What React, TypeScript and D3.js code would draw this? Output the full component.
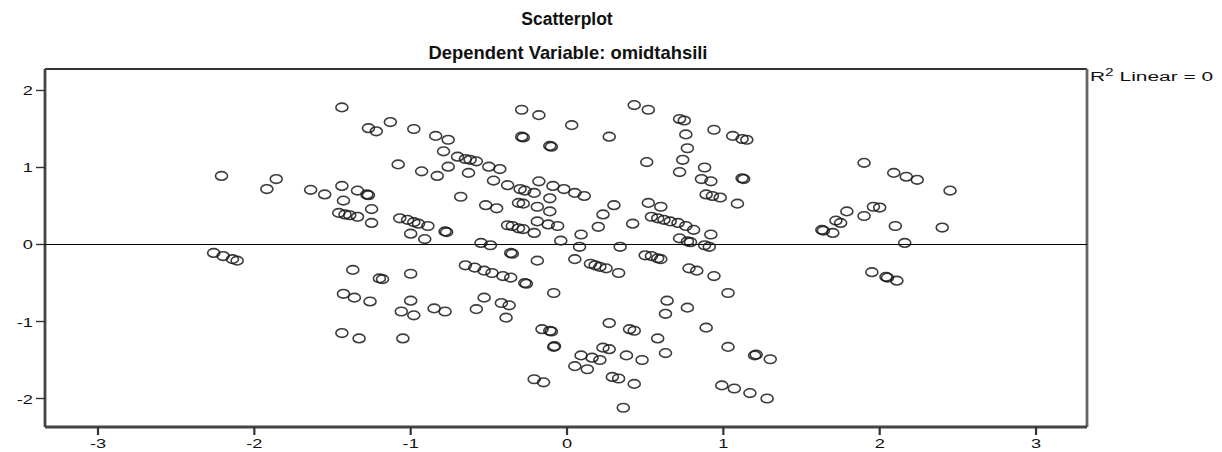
import React from 'react';
import * as d3 from 'd3';

const xVals = [
  -2.21, -1.86, -1.92, -1.64, -1.55, -1.44, -1.27, -1.22, -1.44, -1.34,
  -1.28, -1.27, -1.43, -1.25, -1.46, -1.42, -1.39, -1.34, -1.25, -2.26,
  -2.20, -2.14, -2.11, -1.37, -1.20, -1.18, -1.43, -1.36, -1.26, -1.44,
  -1.33, -0.29, -0.18, -1.13, -0.98, -0.84, -0.76, -0.29, -0.28, -0.11,
  -0.10, 0.03, -0.79, -0.70, -0.65, -0.62, -0.58, -0.50, -0.43, -1.08,
  -0.76, -0.93, -0.83, -0.63, -0.47, -0.38, -0.30, -0.27, -0.21, -0.18,
  -0.09, -0.02, -0.11, -0.68, -0.52, -0.45, -0.31, -0.28, -0.19, -0.11,
  -1.07, -1.02, -0.98, -0.95, -0.89, -1.00, -0.91, -0.78, -0.77, -0.38,
  -0.35, -0.31, -0.28, -0.21, -0.19, -0.12, -0.06, -0.55, -0.49, -0.04,
  -0.36, -0.35, -0.19, -1.00, -0.65, -0.59, -0.53, -0.48, -0.41, -0.36,
  -0.27, -0.26, -0.085, -1.00, -1.06, -0.98, -0.85, -0.78, -0.53, -0.58,
  -0.42, -0.37, -0.39, -1.05, -0.16, -0.11, -0.10, -0.085, -0.08, -0.21,
  -0.15, 0.43, 0.52, 0.72, 0.75, 0.27, 0.76, 0.94, 1.06, 1.12,
  1.15, 0.77, 0.51, 0.74, 0.72, 0.88, 0.86, 0.92, 1.12, 1.13,
  0.89, 0.93, 0.98, 1.09, 0.05, 0.11, 0.30, 0.23, 0.20, 0.09,
  0.42, 0.52, 0.60, 0.54, 0.58, 0.62, 0.66, 0.71, 0.76, 0.81,
  0.92, 0.72, 0.77, 0.79, 0.88, 0.91, 0.08, 0.34, 0.05, 0.15,
  0.18, 0.21, 0.25, 0.33, 0.50, 0.54, 0.58, 0.60, 0.78, 0.83,
  0.94, 1.03, 0.64, 0.77, 0.63, 0.27, 0.40, 0.43, 0.58, 0.89,
  1.03, 1.20, 1.21, 1.30, 0.23, 0.27, 0.09, 0.16, 0.21, 0.38,
  0.48, 0.63, 0.05, 0.13, 0.29, 0.33, 0.43, 0.36, 0.99, 1.07,
  1.17, 1.28, 1.90, 2.09, 2.17, 2.24, 2.45, 1.79, 1.96, 2.00,
  1.90, 1.72, 1.75, 1.63, 1.64, 1.70, 2.10, 2.40, 2.16, 1.95,
  2.04, 2.05, 2.11,
];

const yVals = [
  0.89, 0.85, 0.72, 0.71, 0.65, 1.78, 1.51, 1.47, 0.76, 0.70,
  0.65, 0.64, 0.57, 0.46, 0.41, 0.39, 0.38, 0.36, 0.28, -0.11,
  -0.15, -0.19, -0.21, -0.33, -0.44, -0.45, -0.64, -0.69, -0.74, -1.15,
  -1.22, 1.75, 1.68, 1.59, 1.50, 1.41, 1.36, 1.40, 1.39, 1.28,
  1.27, 1.55, 1.21, 1.14, 1.11, 1.10, 1.08, 1.01, 0.98, 1.04,
  1.01, 0.95, 0.89, 0.93, 0.83, 0.77, 0.72, 0.70, 0.67, 0.82,
  0.76, 0.72, 0.60, 0.62, 0.51, 0.47, 0.54, 0.53, 0.49, 0.43,
  0.34, 0.32, 0.29, 0.27, 0.24, 0.14, 0.07, 0.17, 0.16, 0.25,
  0.24, 0.21, 0.20, 0.15, 0.30, 0.26, 0.24, 0.02, -0.01, 0.05,
  -0.11, -0.12, -0.21, -0.38, -0.27, -0.30, -0.34, -0.37, -0.41, -0.43,
  -0.50, -0.51, -0.63, -0.73, -0.87, -0.92, -0.83, -0.87, -0.69, -0.84,
  -0.76, -0.79, -0.95, -1.22, -1.10, -1.12, -1.13, -1.33, -1.32, -1.75,
  -1.79, 1.81, 1.75, 1.63, 1.61, 1.40, 1.43, 1.49, 1.41, 1.37,
  1.36, 1.25, 1.07, 1.10, 0.94, 1.00, 0.85, 0.82, 0.86, 0.85,
  0.65, 0.63, 0.61, 0.53, 0.67, 0.63, 0.51, 0.39, 0.23, 0.13,
  0.27, 0.54, 0.49, 0.36, 0.34, 0.32, 0.30, 0.28, 0.24, 0.19,
  0.13, 0.08, 0.04, 0.03, -0.01, -0.03, -0.03, -0.03, -0.19, -0.25,
  -0.27, -0.29, -0.31, -0.37, -0.14, -0.15, -0.18, -0.19, -0.31, -0.34,
  -0.41, -0.63, -0.73, -0.82, -0.90, -1.02, -1.10, -1.12, -1.22, -1.08,
  -1.33, -1.44, -1.43, -1.49, -1.34, -1.36, -1.44, -1.47, -1.50, -1.44,
  -1.50, -1.41, -1.58, -1.62, -1.72, -1.74, -1.81, -2.12, -1.83, -1.87,
  -1.93, -2.00, 1.06, 0.93, 0.88, 0.84, 0.70, 0.43, 0.49, 0.48,
  0.37, 0.31, 0.28, 0.19, 0.18, 0.15, 0.24, 0.22, 0.02, -0.36,
  -0.42, -0.43, -0.47,
];

const xTicks = [-3, -2, -1, 0, 1, 2, 3];
const yTicks = [-2, -1, 0, 1, 2];

const titleText = 'Scatterplot';
const subtitleText = 'Dependent Variable: omidtahsili';

export default function App() {
  const W = 1222;
  const H = 452;
  const left = 45, right = 1087, top = 69, bottom = 427;
  const x = d3.scaleLinear().domain([-3.339, 3.326]).range([left, right]);
  const y = d3.scaleLinear().domain([-2.37, 2.279]).range([bottom, top]);
  const points = xVals.map((v, i) => ({ x: v, y: yVals[i] }));
  const font = 'Liberation Sans, Arial, sans-serif';
  const fmt = (t: number) => (t < 0 ? '-' + Math.abs(t) : String(t));
  const sx = 1.35;

  return (
    <div style={{ position: 'absolute', left: 0, top: 0 }}>
      <svg width={W} height={H} viewBox={`0 0 ${W} ${H}`} style={{ display: 'block', background: '#fff' }}>
        <rect x={0} y={0} width={W} height={H} fill="#fff" />
        <text x={567} y={25} textAnchor="middle" fontFamily={font} fontWeight="bold" fontSize={17.5} fill="#111">{titleText}</text>
        <text x={568} y={59} textAnchor="middle" fontFamily={font} fontWeight="bold" fontSize={18.4} fill="#111">{subtitleText}</text>

        {/* frame */}
        <line x1={left} x2={right} y1={top} y2={top} stroke="#333" strokeWidth={1.8} />
        <line x1={right} x2={right} y1={top} y2={bottom} stroke="#666" strokeWidth={2.8} />
        <line x1={left} x2={left} y1={top} y2={bottom} stroke="#444" strokeWidth={2.8} />
        <line x1={left} x2={right} y1={bottom} y2={bottom} stroke="#444" strokeWidth={2.8} />

        {/* reference line */}
        <line x1={left} x2={right} y1={y(0)} y2={y(0)} stroke="#000" strokeWidth={1} />

        {/* y ticks */}
        {yTicks.map(t => (
          <g key={'y' + t}>
            <line x1={left - 9} x2={left} y1={y(t)} y2={y(t)} stroke="#333" strokeWidth={1.4} />
            <text transform={`translate(${left - 12},${y(t) + 5}) scale(${sx},1)`} textAnchor="end" fontFamily={font} fontSize={13.5} fill="#111">{fmt(t)}</text>
          </g>
        ))}

        {/* x ticks */}
        {xTicks.map(t => (
          <g key={'x' + t}>
            <line x1={x(t)} x2={x(t)} y1={bottom} y2={bottom + 8} stroke="#333" strokeWidth={2.2} />
            <text transform={`translate(${x(t)},${bottom + 21}) scale(${sx},1)`} textAnchor="middle" fontFamily={font} fontSize={13.5} fill="#111">{fmt(t)}</text>
          </g>
        ))}

        {/* points */}
        {points.map((p, i) => (
          <ellipse key={i} cx={x(p.x)} cy={y(p.y)} rx={6} ry={4.3} fill="none" stroke="#1a1a1a" strokeWidth={1.6} strokeOpacity={0.85} />
        ))}

        <text transform="translate(1090,81) scale(1.55,1)" fontFamily={font} fontSize={13.5} fill="#111">
          R<tspan dy={-5} fontSize={10}>2</tspan><tspan dy={5}> Linear = 0</tspan>
        </text>
      </svg>
    </div>
  );
}
